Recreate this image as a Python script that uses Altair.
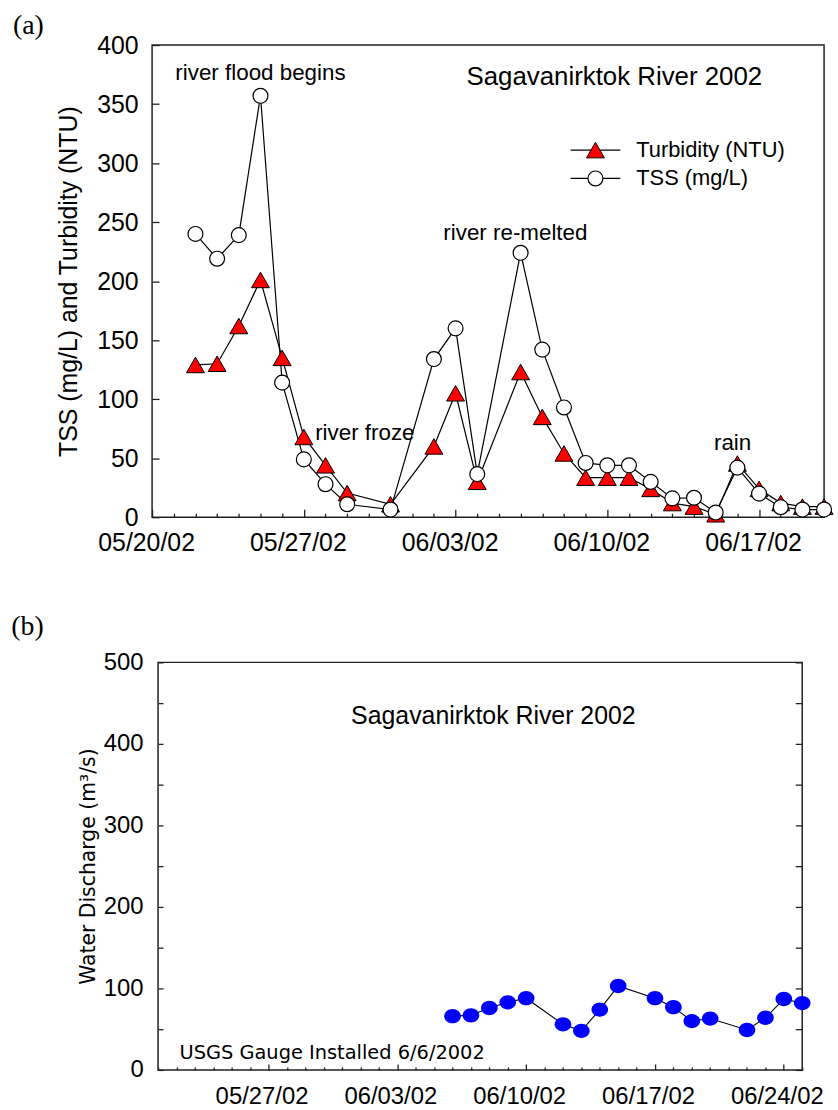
import altair as alt
import pandas as pd

# ---------------- panel (a) data ----------------
a_dates = ["2002-05-22", "2002-05-23", "2002-05-24", "2002-05-25", "2002-05-26", "2002-05-27",
           "2002-05-28", "2002-05-29", "2002-05-31", "2002-06-02", "2002-06-03", "2002-06-04",
           "2002-06-06", "2002-06-07", "2002-06-08", "2002-06-09", "2002-06-10", "2002-06-11",
           "2002-06-12", "2002-06-13", "2002-06-14", "2002-06-15", "2002-06-16", "2002-06-17",
           "2002-06-18", "2002-06-19", "2002-06-20"]
tss = [240, 219, 239, 357, 114, 49, 28, 11, 6.5, 134, 160, 36.5, 224, 142, 93, 46, 44, 44,
       30, 16, 16.5, 4, 42, 20, 8.5, 6.5, 6.5]
turbidity = [129, 130, 162, 201, 135, 68, 44, 20.5, 11, 60, 105, 30, 123, 85, 54, 33.5, 33.5,
             33.5, 24, 12, 9, 2.5, 45.5, 24, 12, 9, 9]

# ---------------- panel (b) data ----------------
b_dates = ["2002-06-06", "2002-06-07", "2002-06-08", "2002-06-09", "2002-06-10", "2002-06-12",
           "2002-06-13", "2002-06-14", "2002-06-15", "2002-06-17", "2002-06-18", "2002-06-19",
           "2002-06-20", "2002-06-22", "2002-06-23", "2002-06-24", "2002-06-25"]
discharge = [66, 67, 76, 83, 88, 56, 48, 74, 103, 88, 77, 60, 63, 49, 64, 87, 82]

# ---------------- axes / tick labels ----------------
A_START, A_END = "2002-05-20", "2002-06-20"
B_START, B_END = "2002-05-21", "2002-06-25"
a_week_ticks = ["2002-05-20", "2002-05-27", "2002-06-03", "2002-06-10", "2002-06-17"]
b_week_ticks = ["2002-05-27", "2002-06-03", "2002-06-10", "2002-06-17", "2002-06-24"]
a_y_ticks = list(range(0, 401, 50))
b_y_labels = list(range(0, 501, 100))
b_y_ticks = list(range(0, 501, 50))

# ---------------- annotation texts and anchors (data coords) ----------------
a_notes = ["river flood begins", "river froze", "river re-melted", "rain"]
a_note_x = ["2002-05-25T00:00:00", "2002-05-29T19:32:00", "2002-06-05T18:14:00", "2002-06-15T18:43:00"]
a_note_y = [376, 71, 241, 62.5]
a_title = ["Sagavanirktok River 2002"]
a_title_x = ["2002-06-10T07:47:00"]
a_title_y = [373]
leg_labels = ["Turbidity (NTU)", "TSS (mg/L)"]
leg_y = [311, 287]
leg_x1 = "2002-06-08T07:22:00"
leg_x2 = "2002-06-10T14:24:00"
leg_xm = "2002-06-09T10:52:00"
leg_xt = "2002-06-11T08:00:00"

b_title = ["Sagavanirktok River 2002"]
b_title_x = ["2002-06-08T05:14:00"]
b_title_y = [434]
b_note = ["USGS Gauge Installed 6/6/2002"]
b_note_x = ["2002-05-22T04:00:00"]
b_note_y = [20.7]

A_W, A_H = 676, 475
B_W, B_H = 648, 410
B_SHIFT = 5.7
FONT = "Liberation Sans"


def ts(s):
    return s if "T" in s else s + "T00:00:00"


def dt(s):
    y, m, d = (int(v) for v in s[:10].split("-"))
    return alt.DateTime(year=y, month=m, date=d)


def days(a, b):
    return [dt(d) for d in pd.date_range(a, b).strftime("%Y-%m-%d")]


MAJOR = "day(datum.value) == 1"

# ================= panel (a) =================
a_df = pd.DataFrame({"date": [ts(d) for d in a_dates], "tss": tss, "turb": turbidity})
xs_a = alt.Scale(domain=[dt(A_START), dt(A_END)], nice=False)
ys_a = alt.Scale(domain=[0, 400], nice=False)

ax_a_lab = alt.Axis(orient="bottom", values=[dt(d) for d in a_week_ticks], format="%m/%d/%y",
                    ticks=False, tickSize=0, domain=False, grid=False, labelFontSize=25,
                    labelPadding=13, labelOffset=-6, labelOverlap=False, labelFlush=False, title=None)
ax_a_tick = alt.Axis(orient="top", offset=-A_H, values=days(A_START, A_END), labels=False,
                     domain=False, grid=False, tickColor="#222", tickWidth=1.3,
                     tickSize={"condition": {"test": MAJOR, "value": 8}, "value": 4}, title=None)
ay_a_lab = alt.Axis(orient="left", values=a_y_ticks, ticks=False, tickSize=0, domain=False,
                    grid=False, labelFontSize=25, labelPadding=14, labelFlush=False,
                    labelOverlap=False, title="TSS (mg/L) and Turbidity (NTU)", titleFontSize=25,
                    titleFontWeight="normal", titlePadding=15)
ay_a_tick = alt.Axis(orient="right", offset=-A_W, values=a_y_ticks, labels=False, domain=False,
                     grid=False, tickColor="#222", tickWidth=1.3, tickSize=7, title=None)

base_a = alt.Chart(a_df)
tss_line = base_a.mark_line(color="black", strokeWidth=1.2).encode(
    x=alt.X("date:T", scale=xs_a, axis=ax_a_lab),
    y=alt.Y("tss:Q", scale=ys_a, axis=ay_a_lab))
turb_line = base_a.mark_line(color="black", strokeWidth=1.2).encode(
    x=alt.X("date:T", scale=xs_a, axis=ax_a_tick),
    y=alt.Y("turb:Q", scale=ys_a, axis=ay_a_tick))
turb_pts = base_a.mark_point(shape="triangle-up", filled=True, fill="#ff0000", stroke="black",
                             strokeWidth=1, size=324, opacity=1).encode(
    x=alt.X("date:T", scale=xs_a, axis=None),
    y=alt.Y("turb:Q", scale=ys_a, axis=None))
tss_pts = base_a.mark_point(shape="circle", filled=True, fill="white", stroke="black",
                            strokeWidth=1.2, size=225, opacity=1).encode(
    x=alt.X("date:T", scale=xs_a, axis=None),
    y=alt.Y("tss:Q", scale=ys_a, axis=None))

notes_a = alt.Chart(pd.DataFrame({"t": a_notes, "x": a_note_x, "y": a_note_y})).mark_text(
    font=FONT, fontSize=22.5, align="center", baseline="middle", color="black").encode(
    x=alt.X("x:T", scale=xs_a, axis=None), y=alt.Y("y:Q", scale=ys_a, axis=None), text="t:N")
title_a = alt.Chart(pd.DataFrame({"t": a_title, "x": a_title_x, "y": a_title_y})).mark_text(
    font=FONT, fontSize=26, align="center", baseline="middle", color="black").encode(
    x=alt.X("x:T", scale=xs_a, axis=None), y=alt.Y("y:Q", scale=ys_a, axis=None), text="t:N")

leg_df = pd.DataFrame({"label": leg_labels, "y": leg_y, "x1": [leg_x1] * 2, "x2": [leg_x2] * 2,
                       "xm": [leg_xm] * 2, "xt": [leg_xt] * 2})
leg_base = alt.Chart(leg_df)
leg_rule = leg_base.mark_rule(color="black", strokeWidth=1.2).encode(
    x=alt.X("x1:T", scale=xs_a, axis=None), x2="x2:T", y=alt.Y("y:Q", scale=ys_a, axis=None))
leg_tri = leg_base.transform_filter(alt.datum.label == leg_labels[0]).mark_point(
    shape="triangle-up", filled=True, fill="#ff0000", stroke="black", strokeWidth=1, size=324,
    opacity=1).encode(x=alt.X("xm:T", scale=xs_a, axis=None), y=alt.Y("y:Q", scale=ys_a, axis=None))
leg_circ = leg_base.transform_filter(alt.datum.label == leg_labels[1]).mark_point(
    shape="circle", filled=True, fill="white", stroke="black", strokeWidth=1.2, size=225,
    opacity=1).encode(x=alt.X("xm:T", scale=xs_a, axis=None), y=alt.Y("y:Q", scale=ys_a, axis=None))
leg_text = leg_base.mark_text(font=FONT, fontSize=22, align="left", baseline="middle",
                              color="black").encode(
    x=alt.X("xt:T", scale=xs_a, axis=None), y=alt.Y("y:Q", scale=ys_a, axis=None), text="label:N")

panel_a = alt.Chart(pd.DataFrame({"t": ["(a)"]})).mark_text(
    font="Liberation Serif", fontSize=28, align="left", baseline="middle", color="black").encode(
    text="t:N", x=alt.value(-140), y=alt.value(-19))

top = alt.layer(tss_line, turb_line, turb_pts, tss_pts, notes_a, title_a, leg_rule, leg_tri,
                leg_circ, leg_text, panel_a).properties(width=A_W, height=A_H).resolve_axis(
    x="independent", y="independent")

# ================= panel (b) =================
b_df = pd.DataFrame({"date": [ts(d) for d in b_dates], "q": discharge})
xs_b = alt.Scale(domain=[dt(B_START), dt(B_END)], nice=False)
ys_b = alt.Scale(domain=[0, 500], nice=False)

ax_b_lab = alt.Axis(orient="bottom", values=[dt(d) for d in b_week_ticks], format="%m/%d/%y",
                    ticks=False, tickSize=0, domain=False, grid=False, labelFontSize=24,
                    labelPadding=15, labelOffset=-7, labelOverlap=False, labelFlush=False, title=None)
ax_b_tick = alt.Axis(orient="top", offset=-B_H, values=days(B_START, B_END), labels=False,
                     domain=False, grid=False, tickColor="#222", tickWidth=1.3,
                     tickSize={"condition": {"test": MAJOR, "value": 6}, "value": 3}, title=None)
ay_b_lab = alt.Axis(orient="left", values=b_y_labels, ticks=False, tickSize=0, domain=False,
                    grid=False, labelFontSize=24, labelPadding=15, labelFlush=False,
                    labelOverlap=False, title="Water Discharge (m³/s)", titleFontSize=20.5,
                    titleFont="DejaVu Sans", titleFontWeight="normal", titlePadding=5)
ay_b_tick_l = alt.Axis(orient="right", offset=-B_W, values=b_y_ticks, labels=False, domain=False,
                       grid=False, tickColor="#222", tickWidth=1.3, tickSize=5, title=None)
ay_b_tick_r = alt.Axis(orient="left", offset=-B_W, values=b_y_ticks, labels=False, domain=False,
                       grid=False, tickColor="#222", tickWidth=1.3, tickSize=7, title=None)

ELLIPSE = "M-1,0A1,0.86,0,1,0,1,0A1,0.86,0,1,0,-1,0Z"
base_b = alt.Chart(b_df)
q_line = base_b.mark_line(color="black", strokeWidth=1.1).encode(
    x=alt.X("date:T", scale=xs_b, axis=ax_b_lab),
    y=alt.Y("q:Q", scale=ys_b, axis=ay_b_lab))
q_pts = base_b.mark_point(shape=ELLIPSE, filled=True, color="#0000ff", strokeWidth=0, size=280,
                          opacity=1).encode(
    x=alt.X("date:T", scale=xs_b, axis=ax_b_tick),
    y=alt.Y("q:Q", scale=ys_b, axis=ay_b_tick_l))
note_b = alt.Chart(pd.DataFrame({"t": b_note, "x": b_note_x, "y": b_note_y})).mark_text(
    font="DejaVu Sans", fontSize=19.5, align="left", baseline="middle", color="black").encode(
    x=alt.X("x:T", scale=xs_b, axis=None), y=alt.Y("y:Q", scale=ys_b, axis=ay_b_tick_r), text="t:N")
title_b = alt.Chart(pd.DataFrame({"t": b_title, "x": b_title_x, "y": b_title_y})).mark_text(
    font=FONT, fontSize=25, align="center", baseline="middle", color="black").encode(
    x=alt.X("x:T", scale=xs_b, axis=None), y=alt.Y("y:Q", scale=ys_b, axis=None), text="t:N")
panel_b = alt.Chart(pd.DataFrame({"t": ["(b)"]})).mark_text(
    font="Liberation Serif", fontSize=28, align="left", baseline="middle", color="black").encode(
    text="t:N", x=alt.value(-147.7), y=alt.value(-36))

bottom_panel = alt.layer(q_line, q_pts, note_b, title_b, panel_b).properties(
    width=B_W, height=B_H).resolve_axis(x="independent", y="independent")

# invisible spacer that moves panel (b)'s plot area a few pixels to the right
spacer = alt.Chart(pd.DataFrame({"s": [0]})).mark_point(opacity=0).encode(
    x=alt.value(0), y=alt.value(0)).properties(
    width=B_SHIFT, height=B_H, view=alt.ViewBackground(stroke="transparent"))

bottom = alt.hconcat(spacer, bottom_panel, spacing=0, bounds="flush")

chart = alt.vconcat(top, bottom, spacing=146, bounds="flush").properties(
    padding={"left": 10, "top": 8, "right": 2, "bottom": 2}, background="white"
).configure_view(stroke="#222", strokeWidth=1.5).configure_axis(
    labelFont=FONT, titleFont=FONT, labelColor="black", titleColor="black")

chart.save("out.html", embed_options={"renderer": "svg", "actions": False})
